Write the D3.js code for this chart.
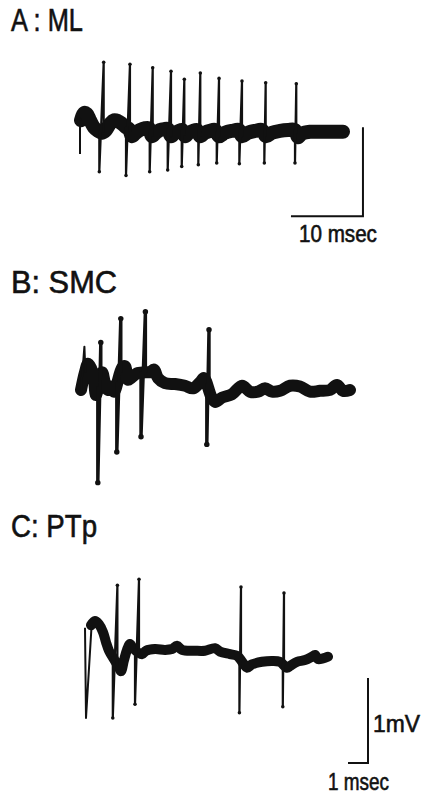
<!DOCTYPE html>
<html>
<head>
<meta charset="utf-8">
<script src="https://cdn.jsdelivr.net/npm/d3@7"></script>
<style>
	body { margin: 0; background: #fff; }
	svg text { font-family: 'Liberation Sans Narrow', 'Liberation Sans', Arial, sans-serif; fill: #111; stroke: #111; stroke-width: 0.6; }
</style>
</head>
<body>
<div id="chart"></div>
<script>
// all traces: [time (msec), potential (mV)]
// A : ML
var mlOnset = [[0, -0.27], [0, 0.13], [0.14, 0.11]];
var mlBand = [
	[0.14, 0.11], [0.56, 0.19], [0.97, 0.18], [1.39, 0.11], [1.94, 0.03], [2.5, -0.01], [3.06, -0.03],
	[3.61, 0], [4.17, 0.07], [4.72, 0.11], [5.28, 0.10], [5.83, 0.07], [6.39, 0.03], [6.81, 0.01],
	[7.22, -0.07], [7.78, -0.03], [8.33, 0], [9.03, 0.02], [9.58, 0.02], [10.0, -0.07], [10.56, -0.03],
	[11.11, 0], [11.67, 0.01], [12.22, 0.01], [12.64, -0.07], [13.19, -0.03], [13.75, -0.01], [14.17, 0],
	[14.58, -0.07], [15.14, -0.03], [15.69, -0.01], [16.25, 0], [16.67, -0.07], [17.36, -0.03], [18.06, -0.01],
	[18.75, 0], [19.31, -0.07], [20.14, -0.03], [21.11, -0.01], [22.08, 0], [22.5, -0.07], [23.33, -0.03],
	[24.31, -0.01], [25.28, 0], [25.83, -0.07], [26.67, -0.03], [27.78, -0.01], [28.89, 0], [29.86, 0],
	[30.28, -0.08], [30.83, -0.04], [31.94, -0.02], [33.33, -0.02], [34.72, -0.02], [36.53, -0.02]
];
// [trough time, trough, peak time, peak]
var mlSpikes = [
	[2.68, -0.47, 3.29, 0.76], [6.39, -0.51, 6.94, 0.74], [9.68, -0.47, 10.10, 0.70],
	[12.18, -0.45, 12.64, 0.66], [14.13, -0.41, 14.49, 0.57], [16.43, -0.39, 16.71, 0.64],
	[18.99, -0.37, 19.31, 0.58], [22.13, -0.38, 22.50, 0.55], [25.60, -0.37, 25.79, 0.53],
	[29.86, -0.37, 30.04, 0.52]
];

// B : SMC
var smcOnset = [[0, 0], [0.17, 0.51], [0.22, 0.21]];
var smcBand = [
	[0, 0], [0.20, 0.21], [0.35, 0.31], [0.50, 0.26], [0.65, 0.12], [0.75, -0.06], [1.05, 0.21],
	[1.20, 0.08], [1.35, 0], [1.50, 0.04], [1.65, -0.02], [2.05, 0.26], [2.20, 0.28], [2.35, 0.12],
	[2.50, 0.14], [2.70, 0.18], [2.85, 0.20], [3.30, 0.21], [3.45, 0.21], [3.65, 0.24], [3.85, 0.14],
	[4.20, 0.08], [4.70, 0.07], [5.20, 0.05], [5.60, 0.02], [5.95, 0.09], [6.15, 0.14], [6.50, -0.07],
	[6.70, -0.14], [7.05, -0.09], [7.55, -0.05], [8.05, 0.05], [8.45, -0.02], [8.85, -0.02], [9.20, 0.02],
	[9.55, -0.02], [9.95, -0.01], [10.45, 0.05], [10.95, 0.04], [11.45, -0.02], [11.95, -0.01],
	[12.45, 0], [12.80, 0.06], [13.10, -0.01], [13.45, 0]
];
var smcSpikes = [
	[0.84, -1.09, 0.99, 0.56], [1.79, -0.73, 1.99, 0.84], [3.00, -0.55, 3.22, 0.92],
	[6.29, -0.64, 6.40, 0.71]
];

// C : PTp
var ptOnset = [[0.10, 0.32], [0.15, -0.74], [0.43, 0.35]];
var ptBand = [
	[0.40, 0.35], [0.60, 0.40], [0.80, 0.36], [1.00, 0.27], [1.15, 0.15], [1.30, 0.05], [1.45, -0.01],
	[1.80, -0.15], [1.90, -0.19], [2.05, -0.06], [2.20, 0.06], [2.35, 0.13], [2.50, 0.08], [2.95, 0.01],
	[3.15, 0.05], [3.60, 0.07], [4.10, 0.06], [4.45, 0.07], [4.70, 0.11], [4.95, 0.06], [5.60, 0.05],
	[6.10, 0.05], [6.60, 0.08], [6.85, 0.04], [7.35, 0.01], [7.70, -0.01], [8.05, -0.11], [8.20, -0.15],
	[8.45, -0.11], [8.95, -0.08], [9.45, -0.07], [9.85, -0.08], [10.20, -0.15], [10.35, -0.13],
	[10.70, -0.08], [11.10, -0.06], [11.45, -0.02], [11.60, 0], [11.75, -0.05], [12.00, -0.04], [12.25, -0.02]
];
var ptSpikes = [
	[1.49, -0.74, 1.72, 0.82], [2.60, -0.58, 2.80, 0.89], [7.82, -0.68, 7.90, 0.80],
	[9.99, -0.61, 10.05, 0.73]
];

var titles = ['A : ML', 'B: SMC', 'C: PTp'];
var barLabels = ['10 msec', '1mV', '1 msec'];

const WIDTH = 422;
const HEIGHT = 794;

var svg = d3.select('#chart').append('svg')
	.attr('width', WIDTH)
	.attr('height', HEIGHT);

var panels = [
	{
		title: titles[0], titleY: 31, titleLen: 72,
		onset: mlOnset, band: mlBand, spikes: mlSpikes,
		x: d3.scaleLinear().domain([0, 40]).range([80, 368]),
		y: d3.scaleLinear().domain([-1, 1]).range([219, 41]),
		bandWidth: 14, spikeWidth: 2.2,
		bar: { t: 39.3, v: -0.97, dt: 10, dv: 1 }
	},
	{
		title: titles[1], titleY: 293, titleLen: 106,
		onset: smcOnset, band: smcBand, spikes: smcSpikes,
		x: d3.scaleLinear().domain([0, 14]).range([81, 361]),
		y: d3.scaleLinear().domain([-1, 1]).range([475, 305]),
		bandWidth: 12, spikeWidth: 3.4
	},
	{
		title: titles[2], titleY: 537, titleLen: 86,
		onset: ptOnset, band: ptBand, spikes: ptSpikes,
		x: d3.scaleLinear().domain([0, 15]).range([83, 383]),
		y: d3.scaleLinear().domain([-1.5, 1]).range([782.5, 570]),
		bandWidth: 10, spikeWidth: 2.2,
		bar: { t: 14.25, v: -1.27, dt: 1, dv: 1 }
	}
];

panels.forEach(drawPanel);

function bandAt (band, t) {
	var i = d3.bisector(function (d) { return d[0]; }).left(band, t);
	if (i <= 0) return band[0][1];
	if (i >= band.length) return band[band.length - 1][1];
	var a = band[i - 1], b = band[i];
	return a[1] + (b[1] - a[1]) * (t - a[0]) / (b[0] - a[0]);
}

function drawPanel (p) {
	var g = svg.append('g');
	var line = d3.line()
		.x(function (d) { return p.x(d[0]); })
		.y(function (d) { return p.y(d[1]); });

	g.append('text')
		.attr('x', 11)
		.attr('y', p.titleY)
		.attr('font-size', 31)
		.attr('textLength', p.titleLen)
		.attr('lengthAdjust', 'spacingAndGlyphs')
		.text(p.title);

	// thick baseline of superimposed sweeps
	g.append('path')
		.attr('d', line.curve(d3.curveCatmullRom)(p.band))
		.attr('fill', 'none')
		.attr('stroke', '#111')
		.attr('stroke-width', p.bandWidth)
		.attr('stroke-linejoin', 'round')
		.attr('stroke-linecap', 'round');
	line.curve(d3.curveLinear);

	g.append('path')
		.attr('d', line(p.onset))
		.attr('fill', 'none')
		.attr('stroke', '#111')
		.attr('stroke-width', 2)
		.attr('stroke-linejoin', 'round');

	g.selectAll('.spike').data(p.spikes).enter()
		.append('path')
		.attr('class', 'spike')
		.attr('d', function (d) {
			return line([[d[0], bandAt(p.band, d[0])], [d[0], d[1]], [d[2], d[3]], [d[2], bandAt(p.band, d[2])]]);
		})
		.attr('fill', 'none')
		.attr('stroke', '#111')
		.attr('stroke-width', p.spikeWidth)
		.attr('stroke-linejoin', 'round')
		.attr('stroke-linecap', 'round');

	var tips = [];
	p.spikes.forEach(function (d) {
		tips.push([d[0], d[1]]);
		tips.push([d[2], d[3]]);
	});
	g.selectAll('.tip').data(tips).enter()
		.append('circle')
		.attr('class', 'tip')
		.attr('cx', function (d) { return p.x(d[0]); })
		.attr('cy', function (d) { return p.y(d[1]); })
		.attr('r', p.spikeWidth * 0.8)
		.attr('fill', '#111');

	if (p.bar) {
		var b = p.bar;
		g.append('path')
			.attr('d', line([[b.t, b.v + b.dv], [b.t, b.v], [b.t - b.dt, b.v]]))
			.attr('fill', 'none')
			.attr('stroke', '#111')
			.attr('stroke-width', 2);
	}
}

// scale bar labels
var A = panels[0], C = panels[2];
svg.append('text')
	.attr('x', A.x(A.bar.t - A.bar.dt) + 8)
	.attr('y', A.y(A.bar.v) + 26)
	.attr('font-size', 23)
	.attr('textLength', 78)
	.attr('lengthAdjust', 'spacingAndGlyphs')
	.text(barLabels[0]);
svg.append('text')
	.attr('x', C.x(C.bar.t) + 5)
	.attr('y', C.y(C.bar.v + C.bar.dv / 2) + 12)
	.attr('font-size', 24)
	.attr('textLength', 47)
	.attr('lengthAdjust', 'spacingAndGlyphs')
	.text(barLabels[1]);
svg.append('text')
	.attr('x', C.x(C.bar.t - C.bar.dt) - 20)
	.attr('y', C.y(C.bar.v) + 27)
	.attr('font-size', 24)
	.attr('textLength', 61)
	.attr('lengthAdjust', 'spacingAndGlyphs')
	.text(barLabels[2]);
</script>
</body>
</html>
